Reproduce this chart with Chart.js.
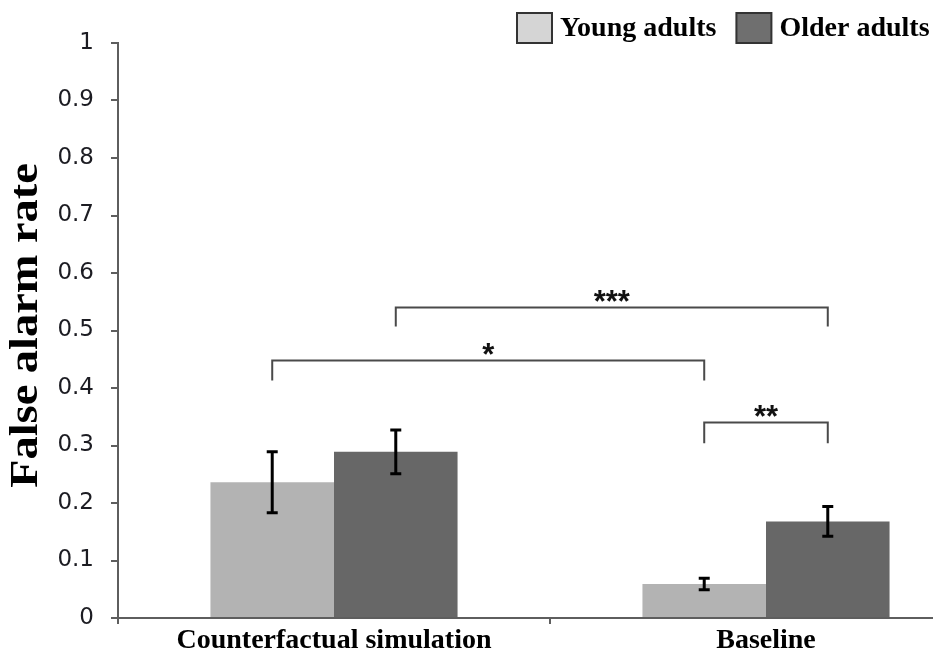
<!DOCTYPE html>
<html>
<head>
<meta charset="utf-8">
<script src="https://cdn.jsdelivr.net/npm/chart.js@4/dist/chart.umd.min.js"></script>
<style>
  html, body { margin: 0; padding: 0; background: #ffffff; overflow: hidden; }
  #wrap { width: 933px; height: 658px; overflow: hidden; position: relative; }
  canvas { display: block; }
</style>
</head>
<body>
<div id="wrap"><canvas id="chart" width="1000" height="658"></canvas></div>
<script>
// Conditions on the x axis
const categories = ['Counterfactual simulation', 'Baseline'];
// Groups
const seriesNames = ['Young adults', 'Older adults'];
// Mean false alarm rate per condition
const youngRate = [0.236, 0.059];
const olderRate = [0.289, 0.168];
// Standard errors (half length of the error bars)
const youngErr = [0.053, 0.010];
const olderErr = [0.038, 0.026];
// Y axis ticks and their labels
const yTicks = [0, 0.1, 0.2, 0.3, 0.4, 0.5, 0.6, 0.7, 0.8, 0.9, 1];
const yTickLabels = ['0', '0.1', '0.2', '0.3', '0.4', '0.5', '0.6', '0.7', '0.8', '0.9', '1'];
const yTitle = 'False alarm rate';
// Pairwise comparisons: bracket height, foot height, stars, [dataset, category] for each end
const comparisonLevels = [0.541, 0.449, 0.341];
const comparisonFeet = [0.507, 0.413, 0.304];
const comparisonStars = ['***', '*', '**'];
const comparisonEnds = [[[1, 0], [1, 1]], [[0, 0], [0, 1]], [[0, 1], [1, 1]]];

const SERIF = '"Times New Roman", "Liberation Serif", serif';
const SANS = 'Verdana, "DejaVu Sans", sans-serif';
const AXIS_GREY = '#5e5e5e';

const errorBars = {
  id: 'errorBars',
  afterDatasetsDraw(chart) {
    const { ctx } = chart;
    const y = chart.scales.y;
    const errs = [youngErr, olderErr];
    ctx.save();
    ctx.strokeStyle = '#000000';
    ctx.lineWidth = 3;
    chart.data.datasets.forEach((ds, di) => {
      const meta = chart.getDatasetMeta(di);
      meta.data.forEach((bar, i) => {
        const v = ds.data[i];
        const e = errs[di][i];
        const top = y.getPixelForValue(v + e);
        const bot = y.getPixelForValue(v - e);
        const x = bar.x;
        const cap = 5.5;
        ctx.beginPath();
        ctx.moveTo(x, top); ctx.lineTo(x, bot);
        ctx.moveTo(x - cap, top); ctx.lineTo(x + cap, top);
        ctx.moveTo(x - cap, bot); ctx.lineTo(x + cap, bot);
        ctx.stroke();
      });
    });
    ctx.restore();
  }
};

const significance = {
  id: 'significance',
  afterDatasetsDraw(chart) {
    const { ctx } = chart;
    const y = chart.scales.y;
    ctx.save();
    ctx.strokeStyle = '#4a4a4a';
    ctx.lineWidth = 2;
    ctx.fillStyle = '#111111';
    ctx.font = 'bold 31px Arial, "Liberation Sans", sans-serif';
    ctx.textAlign = 'center';
    ctx.textBaseline = 'alphabetic';
    comparisonStars.forEach((stars, k) => {
      const [a, b] = comparisonEnds[k];
      const xa = chart.getDatasetMeta(a[0]).data[a[1]].x;
      const xb = chart.getDatasetMeta(b[0]).data[b[1]].x;
      const yl = Math.round(y.getPixelForValue(comparisonLevels[k])) + 0.5;
      const yf = y.getPixelForValue(comparisonFeet[k]);
      ctx.beginPath();
      ctx.moveTo(xa, yf); ctx.lineTo(xa, yl); ctx.lineTo(xb, yl); ctx.lineTo(xb, yf);
      ctx.stroke();
      ctx.fillText(stars, (xa + xb) / 2, yl + 4);
    });
    ctx.restore();
  }
};

// Rotated y axis title, stretched along its reading direction
const axisTitle = {
  id: 'axisTitle',
  afterDraw(chart) {
    const { ctx, chartArea } = chart;
    ctx.save();
    ctx.translate(37, (chartArea.top + chartArea.bottom) / 2 - 5);
    ctx.rotate(-Math.PI / 2);
    ctx.scale(1.16, 1);
    ctx.font = 'bold 40px ' + SERIF;
    ctx.fillStyle = '#000000';
    ctx.textAlign = 'center';
    ctx.textBaseline = 'alphabetic';
    ctx.fillText(yTitle, 0, 0);
    ctx.restore();
  }
};

const boxLegend = {
  id: 'boxLegend',
  afterDraw(chart) {
    const { ctx } = chart;
    const fills = ['#d5d5d5', '#6f6f6f'];
    ctx.save();
    ctx.font = 'bold 28px ' + SERIF;
    ctx.textBaseline = 'alphabetic';
    ctx.textAlign = 'left';
    let x = 517;
    const boxTop = 13, boxW = 35, boxH = 30;
    seriesNames.forEach((name, i) => {
      ctx.fillStyle = fills[i];
      ctx.fillRect(x, boxTop, boxW, boxH);
      ctx.strokeStyle = '#333333';
      ctx.lineWidth = 2;
      ctx.strokeRect(x, boxTop, boxW, boxH);
      x += boxW + 8;
      ctx.fillStyle = '#000000';
      ctx.fillText(name, x, 36);
      x += ctx.measureText(name).width + 20;
    });
    ctx.restore();
  }
};

new Chart(document.getElementById('chart'), {
  type: 'bar',
  data: {
    labels: categories,
    datasets: [
      { label: seriesNames[0], data: youngRate, backgroundColor: '#b3b3b3', borderWidth: 0 },
      { label: seriesNames[1], data: olderRate, backgroundColor: '#676767', borderWidth: 0 }
    ]
  },
  options: {
    responsive: false,
    animation: false,
    events: [],
    layout: { padding: { top: 43, right: 18, bottom: 0, left: 0 } },
    datasets: { bar: { categoryPercentage: 0.572, barPercentage: 1.0 } },
    plugins: { legend: { display: false }, tooltip: { enabled: false } },
    scales: {
      x: {
        offset: true,
        grid: { display: true, offset: true, drawOnChartArea: false, drawTicks: true, tickLength: 6, color: AXIS_GREY, lineWidth: 2 },
        border: { display: true, color: AXIS_GREY, width: 2 },
        ticks: { color: '#000000', padding: 3, maxRotation: 0, font: { family: SERIF, size: 28, weight: 'bold', lineHeight: 1 } },
        afterFit(scale) { scale.height = 40; }
      },
      y: {
        min: 0, max: 1,
        afterBuildTicks(scale) { scale.ticks = yTicks.map(v => ({ value: v })); },
        grid: { display: true, drawOnChartArea: false, drawTicks: true, tickLength: 7, color: AXIS_GREY, lineWidth: 2 },
        border: { display: true, color: AXIS_GREY, width: 2 },
        ticks: {
          color: '#1c1c22', padding: 17,
          font: { family: SANS, size: 23 },
          callback: (v) => yTickLabels[yTicks.indexOf(Math.round(v * 10) / 10)]
        },
        afterFit(scale) { scale.width = 118; }
      }
    }
  },
  plugins: [errorBars, significance, axisTitle, boxLegend]
});
</script>
</body>
</html>
